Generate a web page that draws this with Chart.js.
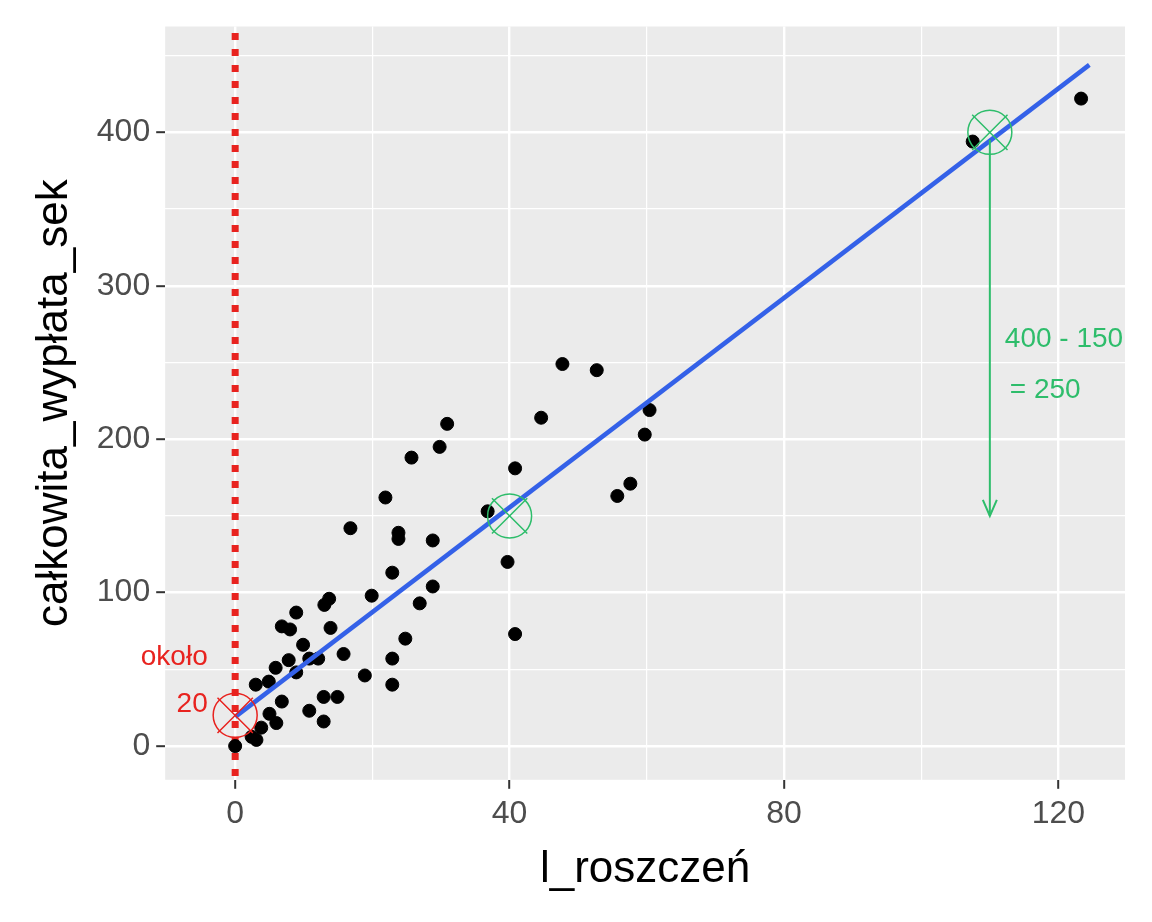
<!DOCTYPE html>
<html>
<head>
<meta charset="utf-8">
<script src="https://cdn.jsdelivr.net/npm/chart.js@4"></script>
<style>
html,body{margin:0;padding:0;background:#fff}
#wrap{width:1152px;height:922px}
</style>
</head>
<body>
<div id="wrap"><canvas id="main-chart" width="1152" height="922"></canvas></div>
<script>
/* Scatter: liczba roszczeń vs całkowita wypłata, z linią regresji */

var claimsX=[22.9,19.9,28.8,26.9,13.7,13,8.9,6.8,8,13.9,24.8,9.9,15.8,22.9,12.1,10.8,7.8,5.9,8.9,18.9,22.9,3,4.9,6.8,12.9,14.9,10.8,5,6,12.9,3.8,2.4,3.1,0,
  123.3,107.5,47.7,52.7,60.4,44.6,30.9,29.8,59.7,25.7,40.8,57.6,55.7,21.9,16.8,23.8,23.8,28.8,36.8,39.7,40.8];
var payoutY=[113,98,104,93,96,92,87,78,76,77,70,66,60,57,57,57,56,51,48,46,40,40,42,29,32,32,23,21,15,16,12,6,4,0,
  422,394,249,245,219,214,210,195,203,188,181,171,163,162,142,139,135,134,153,120,73];
var fitX=[0,124.5];
var fitY=[19,444];
var greenMarkX=[40,110];
var greenMarkY=[150,400];
var redMarkX=[0];
var redMarkY=[20];
var xTicks=[0,40,80,120];
var yTicks=[0,100,200,300,400];

function pts(xs,ys){return xs.map(function(x,i){return{x:x,y:ys[i]}})}

var annotate={
  id:'annotate',
  afterDatasetsDraw:function(chart){
    var c=chart.ctx,xs=chart.scales.x,ys=chart.scales.y;
    c.save();
    // green arrow 400 -> 150
    var ax=xs.getPixelForValue(110),y1=ys.getPixelForValue(395),y2=ys.getPixelForValue(150);
    c.strokeStyle='#2ebd6b';c.lineWidth=2;
    c.beginPath();c.moveTo(ax,y1);c.lineTo(ax,y2);c.stroke();
    c.beginPath();c.moveTo(ax-7,y2-16);c.lineTo(ax,y2);c.lineTo(ax+7,y2-16);c.stroke();
    c.fillStyle='#2ebd6b';c.font='28px "Liberation Sans", Arial, sans-serif';c.textBaseline='middle';
    c.fillText('400 - 150',ax+15,ys.getPixelForValue(265));
    c.fillText('= 250',ax+20,ys.getPixelForValue(232));
    c.fillStyle='#e8231f';c.textAlign='right';
    c.fillText('około',xs.getPixelForValue(-4),ys.getPixelForValue(58));
    c.fillText('20',xs.getPixelForValue(-4),ys.getPixelForValue(27));
    c.restore();
  }
};

function gridColor(ctx){return '#ffffff'}
function gridWidth(ctx){return ctx.tick&&ctx.tick.major?2.4:1.2}

var ctx=document.getElementById('main-chart').getContext('2d');
var mainChart=new Chart(ctx,{
  type:'scatter',
  data:{datasets:[
    {data:pts([0,0],[-30,480]),showLine:true,borderColor:'#e8231f',borderWidth:7,borderDash:[7,9],pointRadius:0,order:5},
    {data:pts(claimsX,payoutY),backgroundColor:'#000',borderColor:'#000',pointRadius:6.5,order:3},
    {data:pts(fitX,fitY),showLine:true,borderColor:'#3461e8',borderWidth:4.5,pointRadius:0,order:2},
    {data:pts(greenMarkX,greenMarkY),pointStyle:'circle',pointRadius:22,borderColor:'#2ebd6b',borderWidth:1.5,backgroundColor:'rgba(0,0,0,0)',order:1},
    {data:pts(greenMarkX,greenMarkY),pointStyle:'crossRot',pointRadius:25,borderColor:'#2ebd6b',borderWidth:1.5,order:1},
    {data:pts(redMarkX,redMarkY),pointStyle:'circle',pointRadius:22,borderColor:'#e8231f',borderWidth:1.5,backgroundColor:'rgba(0,0,0,0)',order:1},
    {data:pts(redMarkX,redMarkY),pointStyle:'crossRot',pointRadius:25,borderColor:'#e8231f',borderWidth:1.5,order:1}
  ]},
  options:{
    responsive:false,
    animation:false,
    layout:{padding:{top:20,right:27,bottom:22,left:24}},
    plugins:{legend:{display:false},tooltip:{enabled:false}},
    scales:{
      x:{
        min:-10.2,max:129.7,
        afterBuildTicks:function(ax){ax.ticks=[0,20,40,60,80,100,120].map(function(v){return{value:v,major:xTicks.indexOf(v)>=0}})},
        ticks:{color:'#4d4d4d',font:{family:'Liberation Sans',size:32},padding:6,
          callback:function(v){return xTicks.indexOf(v)>=0?v:''}},
        grid:{color:gridColor,lineWidth:gridWidth,tickLength:9,
          tickColor:function(c){return c.tick&&c.tick.major?'#333':'rgba(0,0,0,0)'},tickWidth:2},
        border:{display:false},
        title:{display:true,text:'l_roszczeń',color:'#000',font:{family:'Liberation Sans',size:44},padding:{top:4}}
      },
      y:{
        min:-22,max:469,
        afterBuildTicks:function(ax){ax.ticks=[0,50,100,150,200,250,300,350,400,450].map(function(v){return{value:v,major:yTicks.indexOf(v)>=0}})},
        ticks:{color:'#4d4d4d',font:{family:'Liberation Sans',size:32},padding:6,
          callback:function(v){return yTicks.indexOf(v)>=0?v:''}},
        grid:{color:gridColor,lineWidth:gridWidth,tickLength:9,
          tickColor:function(c){return c.tick&&c.tick.major?'#333':'rgba(0,0,0,0)'},tickWidth:2},
        border:{display:false},
        title:{display:true,text:'całkowita_wypłata_sek',color:'#000',font:{family:'Liberation Sans',size:44},padding:{bottom:10}}
      }
    }
  },
  plugins:[{
    id:'panelBg',
    beforeDraw:function(chart){
      var a=chart.chartArea,c=chart.ctx;
      c.save();c.fillStyle='#ebebeb';c.fillRect(a.left,a.top,a.right-a.left,a.bottom-a.top);c.restore();
    }
  },annotate]
});
</script>
</body>
</html>
